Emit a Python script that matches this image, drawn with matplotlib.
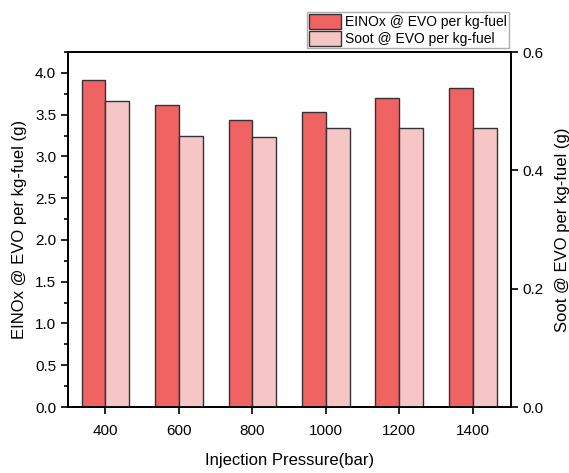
import matplotlib
matplotlib.use('Agg')
import matplotlib.pyplot as plt
import numpy as np

plt.rcParams['font.family'] = ['Liberation Sans', 'DejaVu Sans']

pressures = ['400', '600', '800', '1000', '1200', '1400']
einox = [3.92, 3.61, 3.44, 3.53, 3.70, 3.82]
soot = [0.517, 0.458, 0.456, 0.472, 0.472, 0.471]

x = np.arange(len(pressures))
w = 0.325

fig = plt.figure(figsize=(5.69, 4.73), dpi=100)
ax = fig.add_axes([0.1195, 0.1395, 0.7785, 0.7505])
ax2 = ax.twinx()

b1 = ax.bar(x - w / 2, einox, w, color='#ef6363', edgecolor='#333333', linewidth=1)
b2 = ax2.bar(x + w / 2, soot, w, color='#f6c5c6', edgecolor='#333333', linewidth=1)

ax.set_xlim(-0.51, 5.52)
ax.set_ylim(0, 4.25)
ax2.set_ylim(0, 0.6)

ax.set_xticks(x)
ax.set_xticklabels(pressures)
ax.set_yticks(np.arange(0, 4.01, 0.5))
ax.set_yticks(np.arange(0, 4.26, 0.25), minor=True)
ax2.set_yticks([0, 0.2, 0.4, 0.6])

for a in (ax, ax2):
    a.tick_params(direction='out', labelsize=11, length=5, width=1.2)
    a.tick_params(which='minor', direction='out', length=3, width=1.2)
    for s in a.spines.values():
        s.set_linewidth(1.3)
ax.tick_params(axis='x', pad=7)

ax.set_xlabel('Injection Pressure(bar)', fontsize=12, labelpad=11)
ax.set_ylabel('EINOx @ EVO per kg-fuel (g)', fontsize=12, labelpad=6)
ax2.set_ylabel('Soot @ EVO per kg-fuel (g)', fontsize=12, labelpad=8)

leg = fig.legend([b1, b2], ['EINOx @ EVO per kg-fuel', 'Soot @ EVO per kg-fuel'],
                 loc='upper right', bbox_to_anchor=(0.895, 0.975), fontsize=10,
                 frameon=True, fancybox=False, edgecolor='#999999',
                 handlelength=2.3, handleheight=1.3, handletextpad=0.3,
                 labelspacing=0.1, borderpad=0.15, borderaxespad=0)
leg.get_frame().set_linewidth(1)

fig.savefig('out.png', dpi=100)
